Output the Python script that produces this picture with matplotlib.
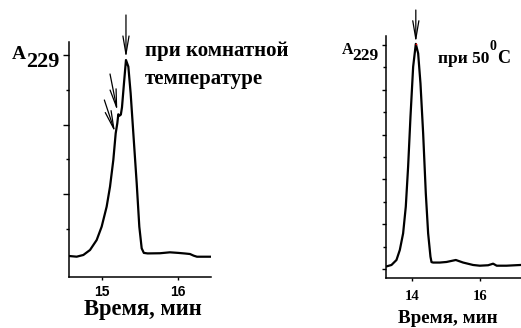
import matplotlib
matplotlib.use("Agg")
import matplotlib.pyplot as plt
from matplotlib.ticker import FixedLocator

# ---- data ----
left_time = [14.574, 14.674, 14.761, 14.848, 14.935, 15.000, 15.065, 15.109, 15.152,
             15.183, 15.204, 15.217, 15.232, 15.250, 15.265, 15.291, 15.317, 15.348,
             15.378, 15.413, 15.457, 15.491, 15.522, 15.550, 15.600, 15.760, 15.890,
             16.000, 16.087, 16.152, 16.200, 16.243, 16.426]
left_abs = [0.211, 0.191, 0.240, 0.384, 0.672, 1.057, 1.634, 2.212, 2.981,
            3.751, 4.040, 4.300, 4.260, 4.290, 4.500, 5.194, 5.867, 5.675,
            4.905, 3.751, 2.308, 1.057, 0.432, 0.300, 0.285, 0.290, 0.317,
            0.300, 0.283, 0.268, 0.220, 0.190, 0.190]

right_time = [13.206, 13.383, 13.531, 13.630, 13.728, 13.807, 13.876, 13.946, 14.025,
              14.104, 14.173, 14.242, 14.321, 14.400, 14.469, 14.538, 14.569, 14.617,
              14.815, 15.013, 15.289, 15.506, 15.800, 16.000, 16.246, 16.394, 16.500,
              16.790, 17.210]
right_abs = [0.058, 0.096, 0.207, 0.430, 0.800, 1.394, 2.285, 3.400, 4.510,
             5.020, 4.810, 4.140, 3.030, 1.690, 0.800, 0.280, 0.160, 0.150,
             0.150, 0.163, 0.207, 0.150, 0.096, 0.080, 0.090, 0.125, 0.080,
             0.080, 0.096]

left_xticks = [15, 16]
right_xticks = [14, 16]
left_ymajor = [2, 4, 6]
left_yminor = [1, 3, 5]
right_ymajor = [0, 1, 2, 3, 4, 5]
right_yminor = [0.5, 1.5, 2.5, 3.5, 4.5]

# arrows: (tail_x, tail_y, tip_x, tip_y)
left_arrows = [(15.317, 7.166, 15.317, 5.93),
               (15.109, 5.463, 15.204, 4.40),
               (15.035, 4.713, 15.174, 3.78)]
right_arrows = [(14.104, 5.775, 14.104, 5.05)]
right_peak = (14.104, 5.02)

W, H = 521, 328
fig = plt.figure(figsize=(W / 100, H / 100), dpi=100)

def box(x0, y_top, x1, y_bot):
    return [x0 / W, 1 - y_bot / H, (x1 - x0) / W, (y_bot - y_top) / H]

def ftxt(x, y, s, **kw):
    return fig.text(x / W, 1 - y / H, s, **kw)

SERIF = "Liberation Serif"
SANS = "Liberation Sans"

# ---- left panel ----
ax1 = fig.add_axes(box(69, 41.7, 211, 277.3))
ax1.plot(left_time, left_abs, color="black", lw=1.6, solid_joinstyle="round")
ax1.set_xlim(14.574, 16.426)
ax1.set_ylim(-0.404, 6.395)
ax1.xaxis.set_major_locator(FixedLocator(left_xticks))
ax1.yaxis.set_major_locator(FixedLocator(left_ymajor))
ax1.yaxis.set_minor_locator(FixedLocator(left_yminor))
ax1.set_yticklabels([])
ax1.tick_params(axis="y", which="major", direction="out", length=4.5, width=1.0)
ax1.tick_params(axis="y", which="minor", direction="out", length=2.5, width=1.0)
ax1.tick_params(axis="x", direction="out", length=2.5, width=1.0, pad=3)
for lab in ax1.get_xticklabels():
    lab.set_fontfamily(SANS)
    lab.set_fontweight("bold")
    lab.set_fontsize(10)
for a in left_arrows:
    ax1.annotate("", xy=(a[2], a[3]), xytext=(a[0], a[1]),
                 arrowprops=dict(arrowstyle="->,head_length=1.3,head_width=0.22",
                                 lw=0.9, color="black", shrinkA=0, shrinkB=0),
                 annotation_clip=False)

# ---- right panel ----
ax2 = fig.add_axes(box(385.5, 36, 521, 278))
ax2.plot(right_time, right_abs, color="black", lw=1.6, solid_joinstyle="round")
ax2.plot([right_peak[0]], [right_peak[1]], "o", color="red", ms=1.2, mew=0)
ax2.set_xlim(13.206, 17.22)
ax2.set_ylim(-0.194, 5.196)
ax2.xaxis.set_major_locator(FixedLocator(right_xticks))
ax2.yaxis.set_major_locator(FixedLocator(right_ymajor))
ax2.yaxis.set_minor_locator(FixedLocator(right_yminor))
ax2.set_yticklabels([])
ax2.tick_params(axis="y", which="major", direction="out", length=3, width=1.0)
ax2.tick_params(axis="y", which="minor", direction="out", length=2, width=1.0)
ax2.tick_params(axis="x", direction="out", length=2.5, width=1.0, pad=6)
for lab in ax2.get_xticklabels():
    lab.set_fontfamily(SERIF)
    lab.set_fontweight("bold")
    lab.set_fontsize(10.5)
for a in right_arrows:
    ax2.annotate("", xy=(a[2], a[3]), xytext=(a[0], a[1]),
                 arrowprops=dict(arrowstyle="->,head_length=1.3,head_width=0.22",
                                 lw=0.9, color="black", shrinkA=0, shrinkB=0),
                 annotation_clip=False)

for ax in (ax1, ax2):
    ax.spines["top"].set_visible(False)
    ax.spines["right"].set_visible(False)
    ax.spines["left"].set_linewidth(1.1)
    ax.spines["bottom"].set_linewidth(1.1)
    ax.patch.set_alpha(0)

# ---- texts ----
bold_serif = dict(family=SERIF, weight="bold", va="baseline", ha="left")
renderer = fig.canvas.get_renderer()

def chain(x0, parts):
    """parts: list of (text, fontsize, baseline_y, gap_px)"""
    x = x0
    for s, fs, yb, gap in parts:
        t = ftxt(x + gap, yb, s, fontsize=fs, **bold_serif)
        bb = t.get_window_extent(renderer=renderer)
        x = bb.x1

chain(12, [("A", 14, 59, 0), ("229", 16, 67, 0)])
ftxt(145, 56, "при комнатной", fontsize=15, **bold_serif)
ftxt(145, 83.5, "температуре", fontsize=15, **bold_serif)
ftxt(142.5, 315, "Время, мин", fontsize=16.3, family=SERIF, weight="bold",
     va="baseline", ha="center")

chain(341.5, [("A", 11.5, 54.5, 0), ("229", 12.5, 60, -0.5)])
chain(438, [("при 50", 12.5, 63, 0), ("0", 10, 50, 0), ("C", 13, 63, 1)])
ftxt(448, 323, "Время, мин", fontsize=13.8, family=SERIF, weight="bold",
     va="baseline", ha="center")

fig.savefig("out.png", dpi=100)
